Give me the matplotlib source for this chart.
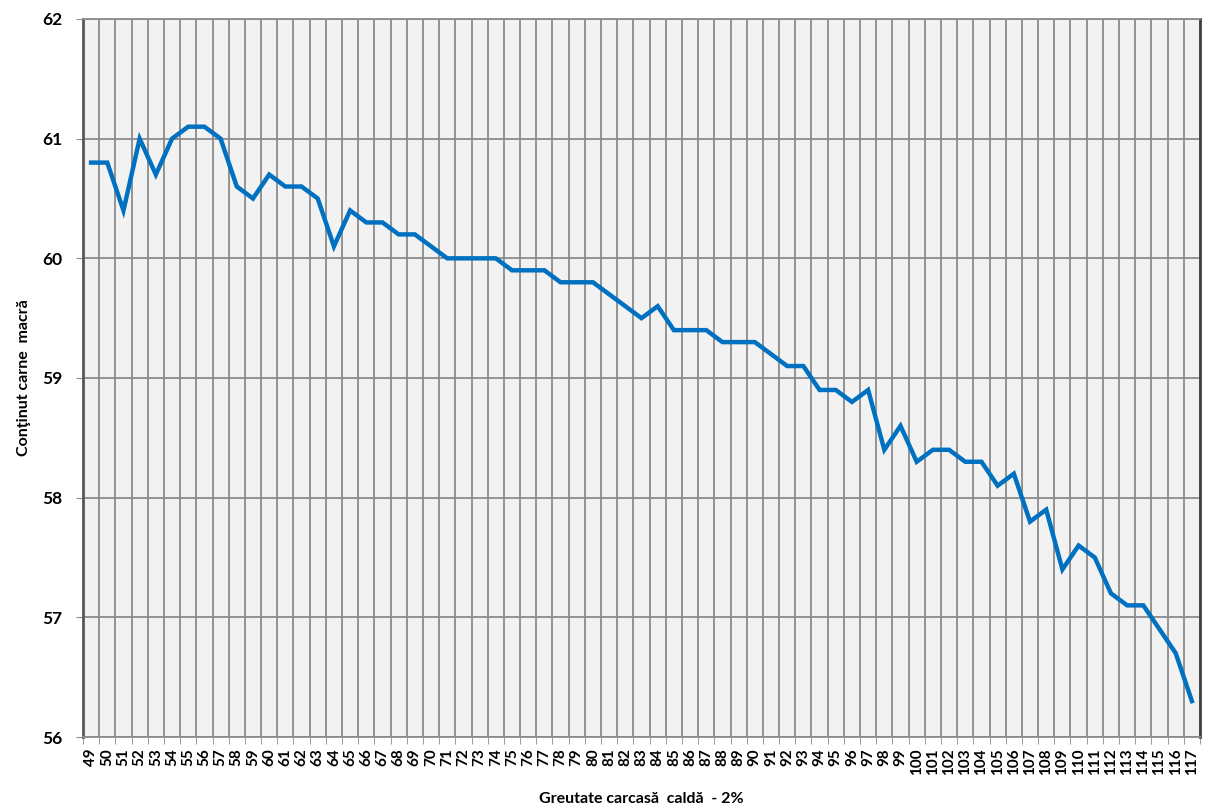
import numpy as np
import matplotlib
matplotlib.use("Agg")
import matplotlib.pyplot as plt

# ---- data ----
weights = list(range(49, 118))
meat = [60.8, 60.8, 60.4, 61.0, 60.7, 61.0, 61.1, 61.1, 61.0, 60.6,
        60.5, 60.7, 60.6, 60.6, 60.5, 60.1, 60.4, 60.3, 60.3, 60.2,
        60.2, 60.1, 60.0, 60.0, 60.0, 60.0, 59.9, 59.9, 59.9, 59.8,
        59.8, 59.8, 59.7, 59.6, 59.5, 59.6, 59.4, 59.4, 59.4, 59.3,
        59.3, 59.3, 59.2, 59.1, 59.1, 58.9, 58.9, 58.8, 58.9, 58.4,
        58.6, 58.3, 58.4, 58.4, 58.3, 58.3, 58.1, 58.2, 57.8, 57.9,
        57.4, 57.6, 57.5, 57.2, 57.1, 57.1, 56.9, 56.7, 56.3]
y_ticks = [56, 57, 58, 59, 60, 61, 62]

plt.rcParams['font.family'] = ['Lato', 'DejaVu Sans']

fig = plt.figure(figsize=(12.08, 8.05), dpi=100)
ax = fig.add_axes([83 / 1208, 1 - 737 / 805, (1200 - 83) / 1208, (737 - 19) / 805])
ax.set_facecolor("#F2F2F2")

x = np.arange(len(weights))
ax.plot(x, meat, color="#0070C0", linewidth=3.2, solid_joinstyle="miter")

ax.set_xlim(-0.5, len(weights) - 0.5)
ax.set_ylim(56, 62)

# category labels at centers, grid on boundaries
ax.set_xticks(x)
ax.set_xticklabels([str(w) for w in weights], rotation=90, fontsize=11, fontweight="bold")
ax.set_xticks(np.arange(-0.5, len(weights), 1), minor=True)
ax.tick_params(axis="x", which="major", length=0, pad=8)
ax.tick_params(axis="x", which="minor", length=5, color="#8C8C8C", direction="out")

ax.set_yticks(y_ticks)
ax.set_yticklabels([str(v) for v in y_ticks], fontsize=12.5, fontweight="bold")
ax.tick_params(axis="y", length=5, color="#8C8C8C", pad=10)

ax.grid(True, which="minor", axis="x", color="#8C8C8C", linewidth=1.3)
ax.grid(True, which="major", axis="y", color="#8C8C8C", linewidth=1.3)
ax.set_axisbelow(True)

for side in ["left", "right", "top", "bottom"]:
    ax.spines[side].set_color("#8C8C8C")
    ax.spines[side].set_linewidth(1.3)
ax.spines["left"].set_color("#595959")
ax.spines["left"].set_linewidth(2)
ax.spines["right"].set_color("#404040")
ax.spines["right"].set_linewidth(2)

ax.set_xlabel("Greutate carcasă  caldă  - 2%", fontsize=11.5, fontweight="bold", labelpad=12)
ax.set_ylabel("Conţinut carne  macră", fontsize=11.5, fontweight="bold", labelpad=8)

fig.savefig("out.png", dpi=100, facecolor="white")
plt.close(fig)
